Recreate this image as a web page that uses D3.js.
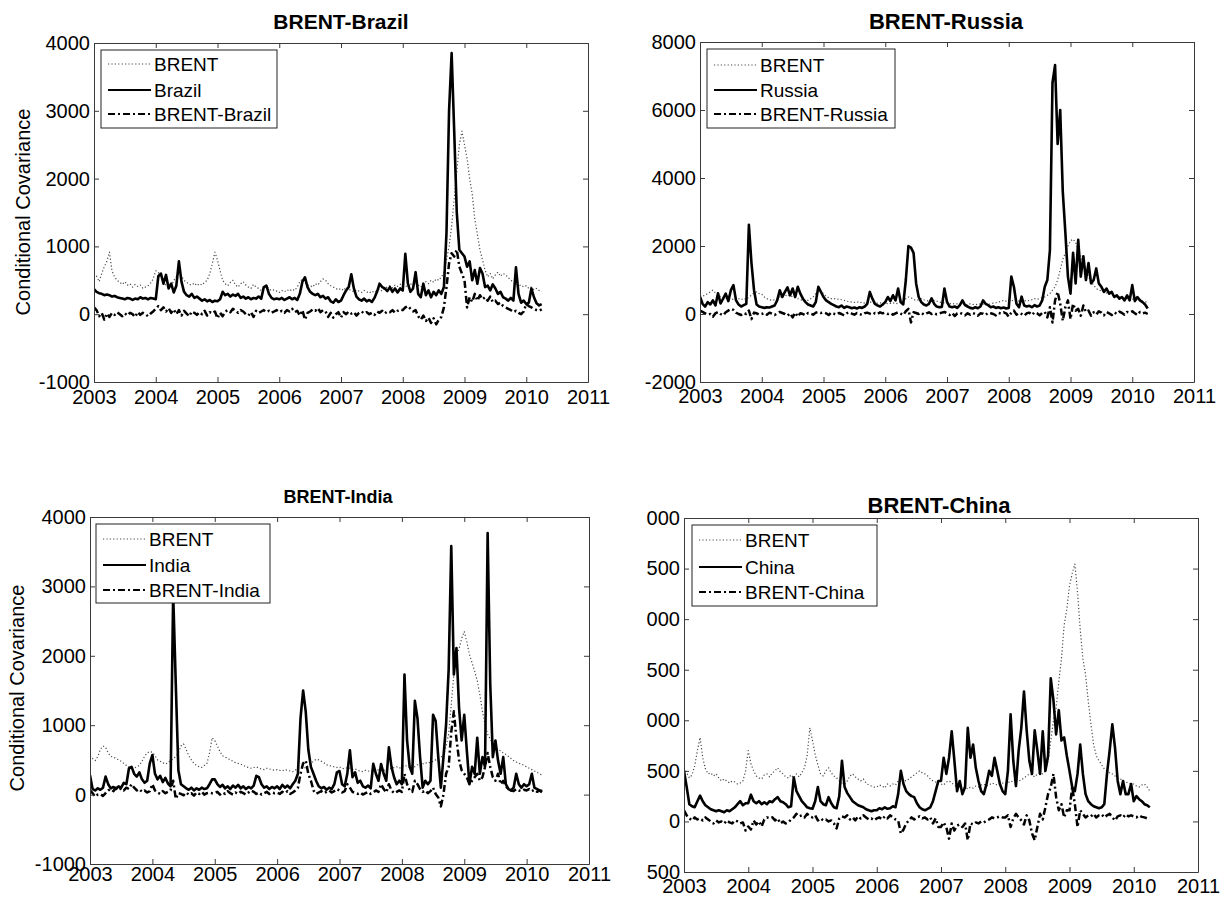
<!DOCTYPE html>
<html>
<head>
<meta charset="utf-8">
<script src="https://cdn.jsdelivr.net/npm/d3@7"></script>
<style>
  body { margin: 0; background: #fff; }
  svg { display: block; }
</style>
</head>
<body>
<svg id="chart" width="1226" height="897"></svg>
<script>
// half-month steps, starting 2003.0
const t0 = 2003, perYear = 24;

const xTicks = [2003, 2004, 2005, 2006, 2007, 2008, 2009, 2010, 2011];
const yTicksBrazil = [-1000, 0, 1000, 2000, 3000, 4000];
const yTicksRussia = [-2000, 0, 2000, 4000, 6000, 8000];
const yTicksIndia = [-1000, 0, 1000, 2000, 3000, 4000];
const yTicksChina = [-500, 0, 500, 1000, 1500, 2000, 2500, 3000];

// ---- BRENT-Brazil ----
const brentBrazil = [
  520,560,480,600,700,780, 915,640,550,500,470,440, 480,430,450,400,440,410, 430,380,400,420,460,520,
  640,620,550,480,420,450, 400,500,550,600,560,500, 470,440,430,460,420,450, 430,470,500,600,750,915,
  800,640,500,450,420,470, 500,430,400,450,480,430, 400,380,440,400,380,350, 400,420,370,350,360,340,
  320,350,330,360,340,370, 350,400,480,520,470,430, 420,400,450,430,480,520, 500,450,420,400,380,360,
  380,350,400,370,350,330, 360,340,320,350,330,310, 340,320,350,370,340,380, 400,420,390,430,410,440,
  450,420,400,450,420,460, 430,400,440,480,450,500, 470,520,500,550,600,800, 1000,1300,1700,2100,2500,2700,
  2500,2300,2000,1770,1400,1180, 950,800,650,550,600,520, 580,620,560,600,580,540, 500,480,450,420,430,400,
  420,380,400,360,380,350,330
];
const brazil = [
  370,330,310,300,280,290, 280,260,270,250,240,230, 220,240,230,210,230,220, 250,230,240,220,240,230,
  220,560,600,450,580,380, 450,320,420,780,480,330, 280,260,300,240,260,230, 200,220,190,210,180,200,
  190,220,330,280,300,260, 290,270,300,240,260,230, 250,220,240,230,260,230, 400,420,300,240,220,230,
  220,240,210,230,250,220, 240,210,300,480,545,400, 330,300,280,300,250,270, 230,250,190,170,220,180,
  200,280,350,400,590,380, 260,220,200,230,190,210, 180,240,330,450,400,380, 340,400,330,380,320,380,
  350,890,450,330,380,620, 300,250,450,280,350,250, 330,280,350,300,400,1200, 3000,3850,2700,1500,950,900,
  850,700,780,500,650,450, 680,600,400,420,350,440, 380,300,330,250,230,200, 240,200,690,300,170,200,
  150,170,380,250,160,130,150
];
const covBrazil = [
  100,60,-30,20,-80,10, -40,20,-10,30,0,-30, 10,-20,20,0,-40,30, -10,20,0,-30,10,40,
  80,120,60,100,40,90, 20,70,0,60,-20,50, 10,-30,40,20,-10,30, 0,50,-20,30,10,40,
  -60,20,-30,40,60,30, 80,50,20,60,40,0, -20,30,-40,50,20,40, 60,30,50,20,40,60,
  30,50,20,60,40,80, 30,50,-20,60,-80,20, 40,70,50,90,30,60, 40,-40,20,-50,0,30,
  -50,30,0,40,10,30, -20,20,40,10,30,0, 20,-10,40,20,50,10, 40,30,60,20,50,70,
  60,100,120,80,40,60, -30,-80,-20,-100,-50,-130, -60,-150,-80,-40,100,400, 750,900,850,950,700,600,
  500,100,250,180,300,200, 280,220,250,200,260,180, 200,150,170,120,100,80, 60,30,50,20,0,40,
  150,120,100,80,60,50,70
];

// ---- BRENT-Russia ----
const brentRussia = [
  550,520,560,600,650,700, 620,580,500,480,450,460, 420,440,480,450,420,460, 430,500,550,620,650,600,
  580,500,450,420,400,420, 450,500,550,560,520,560, 500,480,450,420,400,420, 400,450,500,600,700,650,
  600,520,480,450,460,430, 440,420,400,380,360,350, 340,360,330,350,320,340, 360,330,310,320,330,300,
  320,300,310,330,300,320, 340,380,450,500,480,430, 400,420,450,420,400,380, 360,400,380,350,340,320,
  330,300,310,290,300,280, 310,290,270,300,280,290, 270,300,290,310,280,300, 320,330,350,370,400,380,
  400,380,420,400,380,420, 400,380,400,420,450,430, 460,480,500,550,600,700, 800,1000,1300,1600,1800,2000,
  2150,2200,2100,1900,1700,1500, 1300,1100,950,850,750,700, 680,650,620,600,580,550, 520,500,480,470,450,430,
  440,420,400,410,380,360,340
];
const russia = [
  510,300,220,350,280,400, 250,610,310,450,600,380, 700,850,400,280,220,260, 300,2620,1500,700,280,220,
  200,180,200,190,220,250, 400,700,500,650,780,550, 750,500,800,600,450,350, 280,250,220,350,800,650,
  500,400,350,300,260,220, 200,250,180,220,200,170, 190,160,200,180,220,300, 650,450,300,250,220,280,
  350,500,380,550,400,750, 350,280,1000,2000,1950,1800, 900,500,350,280,250,300, 460,300,220,200,210,750,
  360,220,200,220,180,260, 400,260,220,180,160,200, 170,220,400,300,260,200, 220,180,200,170,190,160,
  180,1100,800,300,200,510, 250,220,240,200,260,220, 250,400,800,1000,1880,6800, 7320,5000,6000,3600,2400,1100,
  600,1800,900,2180,1100,1700, 1000,1500,900,1000,1340,900, 800,650,750,600,650,500, 550,450,500,400,550,400,
  850,380,500,400,350,280,160
];
const covRussia = [
  100,60,20,-20,0,-80, 20,60,0,-40,50,100, 150,120,40,0,-30,30, 0,100,-150,40,20,-20,
  0,30,-20,40,10,-30, 20,60,30,0,-50,20, -100,40,-80,20,0,-40, 30,10,-20,40,60,30,
  50,20,-30,40,10,-20, 30,0,-40,20,50,10, -20,30,0,-30,20,40, 10,-20,30,0,50,20,
  40,0,30,-20,20,50, 10,-30,80,150,-250,50, 30,0,40,-20,20,50, 0,30,-10,20,40,60,
  20,-30,30,-60,20,40, 0,-40,20,-20,30,0, -50,20,10,-30,40,20, 0,-40,30,10,50,20,
  -80,40,100,-20,30,0, -50,20,40,-30,50,20, -40,30,60,-100,200,-250, 400,650,300,-200,200,400,
  -150,300,100,150,-50,250, 60,100,-50,50,-20,80, 40,-40,60,20,-30,50, 0,70,30,-20,60,40,
  80,20,-30,60,20,40,0
];

// ---- BRENT-India ----
const brentIndia = [
  560,520,490,550,650,700, 680,600,550,540,520,500, 480,450,420,400,390,380, 400,420,480,550,600,620,
  610,560,500,480,460,440, 460,490,520,550,600,700, 730,650,560,500,450,420, 400,390,420,450,600,820,
  780,700,620,560,540,520, 500,480,460,450,440,420, 400,390,380,390,400,380, 370,360,380,370,360,350,
  360,350,340,360,350,340, 330,350,380,390,400,380, 420,450,480,510,500,480, 460,430,420,410,400,390,
  400,380,370,390,380,360, 370,350,340,330,350,340, 330,350,340,360,370,350, 360,380,370,390,400,380,
  400,420,410,390,420,400, 430,410,440,460,450,470, 480,500,520,540,560,700, 870,1300,1730,2000,2100,2250,
  2350,2200,2020,1900,1780,1640, 1440,1200,1010,870,800,730, 680,650,630,600,580,550, 520,490,470,450,440,420,
  400,380,360,340,320,300,280
];
const india = [
  280,80,60,90,70,100, 260,150,90,110,80,120, 100,170,150,380,400,300, 260,320,220,170,200,450,
  570,300,220,270,180,240, 160,120,2900,1600,350,150, 120,90,70,100,60,90, 70,100,80,90,150,220,
  220,150,110,140,90,120, 80,130,100,140,90,120, 80,110,90,130,270,250, 150,100,120,80,110,90,
  120,80,140,100,130,90, 150,200,300,1100,1500,1200, 650,400,300,200,120,90, 110,70,100,80,150,320,
  340,150,120,300,640,250, 320,170,200,120,100,130, 90,445,300,200,440,300, 200,680,400,250,150,200,
  150,1730,780,400,300,1350, 1100,540,100,200,150,200, 1150,1060,540,100,540,1000, 1800,3580,1730,2110,1250,780,
  1150,630,150,400,300,820, 300,540,400,3770,1590,540, 780,490,300,540,150,80, 60,100,300,150,100,150,
  120,150,300,100,80,60,50
];
const covIndia = [
  60,20,-30,0,10,-20, 20,60,80,50,100,70, 90,60,100,80,150,100, 60,80,40,60,30,50,
  150,60,30,10,50,20, 40,60,200,-60,20,10, -10,30,0,20,-15,30, 10,40,0,20,30,20,
  20,40,0,30,10,50, 20,0,30,10,40,20, 0,30,60,40,10,30, 0,20,40,10,30,20,
  30,10,40,20,50,10, 30,60,100,300,450,490, 300,200,60,10,30,50, 20,40,60,30,50,80,
  60,30,50,150,100,40, 20,10,30,0,20,40, 10,30,60,40,150,80, 30,150,60,20,40,60,
  40,300,150,60,40,200, 150,80,40,60,20,50, 100,10,-40,-170,0,300, 400,900,1200,800,500,350,
  300,250,150,200,250,300, 200,250,400,600,400,250, 200,300,150,200,120,80, 60,50,80,60,50,70,
  60,80,50,70,40,60,30
];

// ---- BRENT-China ----
const brentChina = [
  530,480,430,460,550,700, 830,630,520,470,480,450, 470,430,400,420,400,380, 400,390,370,380,400,500,
  700,570,500,450,430,420, 460,470,440,480,500,530, 490,470,440,430,460,430, 470,440,480,530,650,925,
  800,660,560,470,450,500, 530,480,450,430,400,380, 370,400,450,470,440,420, 400,420,380,360,350,340,
  340,360,350,330,370,350, 370,360,400,430,410,400, 420,440,460,480,500,480, 470,450,420,400,390,370,
  370,360,390,400,380,360, 340,350,330,340,320,340, 330,350,340,360,370,350, 360,380,370,360,370,380,
  370,380,400,390,420,400, 410,430,450,470,460,440, 470,480,470,500,600,795, 1000,1120,1380,1610,1940,2100,
  2330,2450,2545,2265,1900,1610, 1450,1190,960,760,650,600, 560,520,500,480,470,450, 430,420,400,390,380,370,
  370,350,340,360,370,340,300
];
const china = [
  500,340,170,150,140,200, 255,200,160,140,120,110, 100,110,100,90,110,100, 120,140,170,200,160,180,
  180,265,200,180,200,170, 190,170,200,190,220,240, 200,190,170,140,150,435, 300,250,200,170,140,130,
  125,200,340,200,170,160, 240,180,140,130,250,600, 340,280,240,200,180,160, 150,140,120,110,100,110,
  110,130,120,140,125,130, 150,140,270,500,370,300, 270,250,240,180,140,120, 110,125,140,200,300,400,
  400,630,470,630,890,600, 300,400,270,340,925,630, 760,530,400,300,270,370, 500,450,630,500,370,300,
  270,500,1060,600,350,700, 925,1285,900,600,470,900, 700,470,890,500,650,1415, 1200,860,1100,800,830,650,
  500,340,300,470,760,470, 270,200,170,150,140,130, 140,170,470,700,960,730, 400,270,400,270,270,370,
  200,250,220,200,170,160,140
];
const covChina = [
  110,60,30,10,40,20, 30,10,40,20,0,-20, 10,-10,0,-20,10,-10, -20,10,0,-20,-10,-90,
  -50,-80,10,-30,0,-50, 20,40,30,40,10,30, -20,0,-20,-10,20,40, 75,50,60,40,75,50,
  40,60,10,30,10,20, 0,10,-20,-70,30,50, 40,60,20,40,10,50, 30,60,40,20,30,10,
  30,40,20,50,30,60, 40,20,10,-120,-80,-20, 10,40,20,40,50,30, 40,20,40,-20,30,-55,
  -55,-10,-60,-170,-20,-90, -40,-30,-55,-20,-185,-20, -30,-10,-20,0,-10,10, 20,40,30,40,50,40,
  40,60,-55,30,75,40, 10,-30,60,10,-120,-185, -55,75,20,140,270,340, 470,240,110,170,40,110,
  110,340,170,-55,110,75, 40,60,50,75,40,60, 70,40,60,75,40,10, 50,60,40,70,50,60,
  50,40,60,45,40,30,35
];

const panels = [
  { title: "BRENT-Brazil", country: "Brazil", data: [brentBrazil, brazil, covBrazil],
    yDomain: [-1000, 4000], yTicks: yTicksBrazil,
    left: 94, right: 588, top: 43, bottom: 382, xPad: 8,
    titleX: 341, titleY: 29, titleSize: 21, ylabel: { x: 30, y: 212 },
    legend: { x: 101, y: 50, w: 176, h: 78, rows: [64, 90, 114] } },
  { title: "BRENT-Russia", country: "Russia", data: [brentRussia, russia, covRussia],
    yDomain: [-2000, 8000], yTicks: yTicksRussia,
    left: 700, right: 1194, top: 42, bottom: 382, xPad: 7,
    titleX: 946, titleY: 29, titleSize: 22,
    legend: { x: 707, y: 49, w: 188, h: 79, rows: [65, 90, 114] } },
  { title: "BRENT-India", country: "India", data: [brentIndia, india, covIndia],
    yDomain: [-1000, 4000], yTicks: yTicksIndia,
    left: 90, right: 589, top: 517, bottom: 864, xPad: 3,
    titleX: 338, titleY: 503, titleSize: 18, ylabel: { x: 24, y: 688 },
    legend: { x: 96, y: 524, w: 174, h: 79, rows: [539, 565, 590] } },
  { title: "BRENT-China", country: "China", data: [brentChina, china, covChina],
    yDomain: [-500, 3000], yTicks: yTicksChina,
    left: 684, right: 1198, top: 518, bottom: 872, xPad: 7,
    titleX: 939, titleY: 513, titleSize: 22, clipLeft: 646,
    legend: { x: 692, y: 525, w: 185, h: 81, rows: [540, 567, 592] } }
];

const font = "'Liberation Sans', Arial, Helvetica, sans-serif";
const styles = [
  { stroke: "#4a4a4a", width: 1.2, dash: "1.2,2.2" },
  { stroke: "#000", width: 2.6, dash: null },
  { stroke: "#000", width: 2.5, dash: "7,3,2,3" }
];

const svg = d3.select("#chart");
svg.append("rect").attr("width", 1226).attr("height", 897).attr("fill", "#fff");

panels.forEach((p, pi) => {
  const g = svg.append("g");
  const x = d3.scaleLinear().domain([2003, 2011]).range([p.left, p.right]);
  const y = d3.scaleLinear().domain(p.yDomain).range([p.bottom, p.top]);

  const clipId = "clip" + pi;
  svg.append("clipPath").attr("id", clipId)
    .append("rect").attr("x", p.left).attr("y", p.top)
    .attr("width", p.right - p.left).attr("height", p.bottom - p.top);

  const line = d3.line()
    .x((d, i) => x(t0 + i / perYear))
    .y(d => y(d));

  p.data.forEach((s, si) => {
    g.append("path")
      .datum(s)
      .attr("clip-path", `url(#${clipId})`)
      .attr("fill", "none")
      .attr("stroke", styles[si].stroke)
      .attr("stroke-width", styles[si].width)
      .attr("stroke-dasharray", styles[si].dash)
      .attr("stroke-linejoin", "round")
      .attr("d", line);
  });

  const fmt = d => String(d);
  const styleAxis = a => {
    a.attr("color", "#3a3a3a").attr("font-size", 20).attr("font-family", font);
    a.selectAll("text").attr("fill", "#000");
  };

  g.append("g").attr("transform", `translate(0,${p.bottom})`)
    .call(d3.axisBottom(x).tickValues(xTicks).tickFormat(fmt)
      .tickSize(-5).tickSizeOuter(0).tickPadding(p.xPad))
    .call(styleAxis);
  g.append("g").attr("transform", `translate(0,${p.top})`)
    .call(d3.axisTop(x).tickValues(xTicks).tickFormat("")
      .tickSize(-5).tickSizeOuter(0))
    .call(styleAxis);
  const leftAxis = g.append("g").attr("transform", `translate(${p.left},0)`)
    .call(d3.axisLeft(y).tickValues(p.yTicks).tickFormat(fmt)
      .tickSize(-5).tickSizeOuter(0).tickPadding(4))
    .call(styleAxis);
  g.append("g").attr("transform", `translate(${p.right},0)`)
    .call(d3.axisRight(y).tickValues(p.yTicks).tickFormat("")
      .tickSize(-5).tickSizeOuter(0))
    .call(styleAxis);

  if (p.clipLeft) {
    // the reference picture is cropped on the left of this panel
    svg.append("clipPath").attr("id", "lab" + pi)
      .append("rect").attr("x", p.clipLeft - p.left).attr("y", 0)
      .attr("width", 1226).attr("height", 897);
    leftAxis.attr("clip-path", `url(#lab${pi})`);
  }

  g.append("text")
    .attr("x", p.titleX).attr("y", p.titleY)
    .attr("text-anchor", "middle")
    .attr("font-family", font).attr("font-weight", "bold")
    .attr("font-size", p.titleSize)
    .text(p.title);

  if (p.ylabel) {
    g.append("text")
      .attr("transform", `translate(${p.ylabel.x},${p.ylabel.y}) rotate(-90)`)
      .attr("text-anchor", "middle")
      .attr("font-family", font).attr("font-size", 20)
      .text("Conditional Covariance");
  }

  // legend
  const L = p.legend;
  const lg = g.append("g");
  lg.append("rect").attr("x", L.x).attr("y", L.y).attr("width", L.w).attr("height", L.h)
    .attr("fill", "#fff").attr("stroke", "#222").attr("stroke-width", 1);
  const names = ["BRENT", p.country, p.title];
  names.forEach((n, i) => {
    lg.append("line")
      .attr("x1", L.x + 7).attr("x2", L.x + 50)
      .attr("y1", L.rows[i]).attr("y2", L.rows[i])
      .attr("stroke", styles[i].stroke)
      .attr("stroke-width", i === 0 ? 1.2 : 2)
      .attr("stroke-dasharray", styles[i].dash);
    lg.append("text")
      .attr("x", L.x + 53).attr("y", L.rows[i]).attr("dy", "0.36em")
      .attr("font-family", font).attr("font-size", 19)
      .text(n);
  });
});
</script>
</body>
</html>
